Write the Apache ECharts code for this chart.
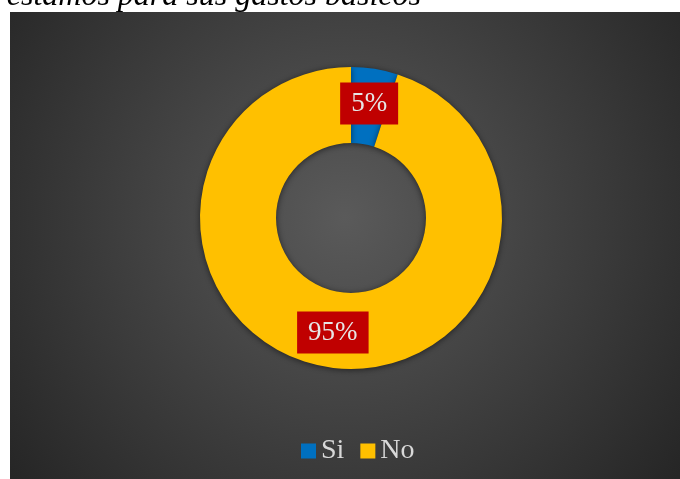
<!DOCTYPE html>
<html>
<head>
<meta charset="utf-8">
<script src="https://cdn.jsdelivr.net/npm/echarts@6/dist/echarts.min.js"></script>
<style>
  html, body { margin: 0; padding: 0; background: #ffffff; }
  #chart { width: 680px; height: 479px; }
</style>
</head>
<body>
<div id="chart"></div>
<script>
// Answers to the survey question and their share of respondents (%)
const categories = ['Si', 'No'];
const shares = [5, 95];
const sliceColors = ['#0070C0', '#FFC000'];
const captionText = 'préstamos para sus gastos básicos';

const chart = echarts.init(document.getElementById('chart'), null, { renderer: 'canvas' });

const serif = '"Liberation Serif", "DejaVu Serif", serif';

chart.setOption({
  animation: false,
  backgroundColor: '#ffffff',
  graphic: [
    {
      type: 'rect',
      z: -10,
      shape: { x: 10, y: 12, width: 670, height: 467 },
      style: {
        fill: {
          type: 'radial', x: 0.5, y: 0.44, r: 0.9,
          colorStops: [
            { offset: 0, color: '#5a5a5a' },
            { offset: 1, color: '#262626' }
          ]
        }
      }
    },
    {
      // caption line above the chart panel (partly off the page)
      type: 'text',
      x: 421, y: 13,
      style: {
        text: captionText,
        fill: '#000000',
        font: 'italic 32px ' + serif,
        textAlign: 'right',
        textVerticalAlign: 'bottom'
      }
    }
  ],
  legend: {
    data: categories,
    left: 296,
    top: 432,
    itemWidth: 15,
    itemHeight: 15,
    itemGap: 16,
    icon: 'rect',
    textStyle: { color: '#d9d9d9', fontFamily: serif, fontSize: 28, padding: [0, 0, 0, 0] }
  },
  series: [{
    type: 'pie',
    center: [351, 218],
    radius: [75, 151],
    startAngle: 90,
    clockwise: true,
    avoidLabelOverlap: false,
    itemStyle: {
      shadowBlur: 6,
      shadowColor: 'rgba(0,0,0,0.55)',
      shadowOffsetY: 1
    },
    label: {
      show: true,
      position: 'inside',
      formatter: '{c}%',
      color: '#e6e6e6',
      fontFamily: serif,
      fontSize: 27,
      lineHeight: 30,
      backgroundColor: '#C00000',
      padding: [6, 11, 6, 11]
    },
    labelLine: { show: false },
    emphasis: { disabled: true },
    data: categories.map((name, i) => ({
      name: name,
      value: shares[i],
      itemStyle: { color: sliceColors[i] }
    }))
  }]
});
</script>
</body>
</html>
